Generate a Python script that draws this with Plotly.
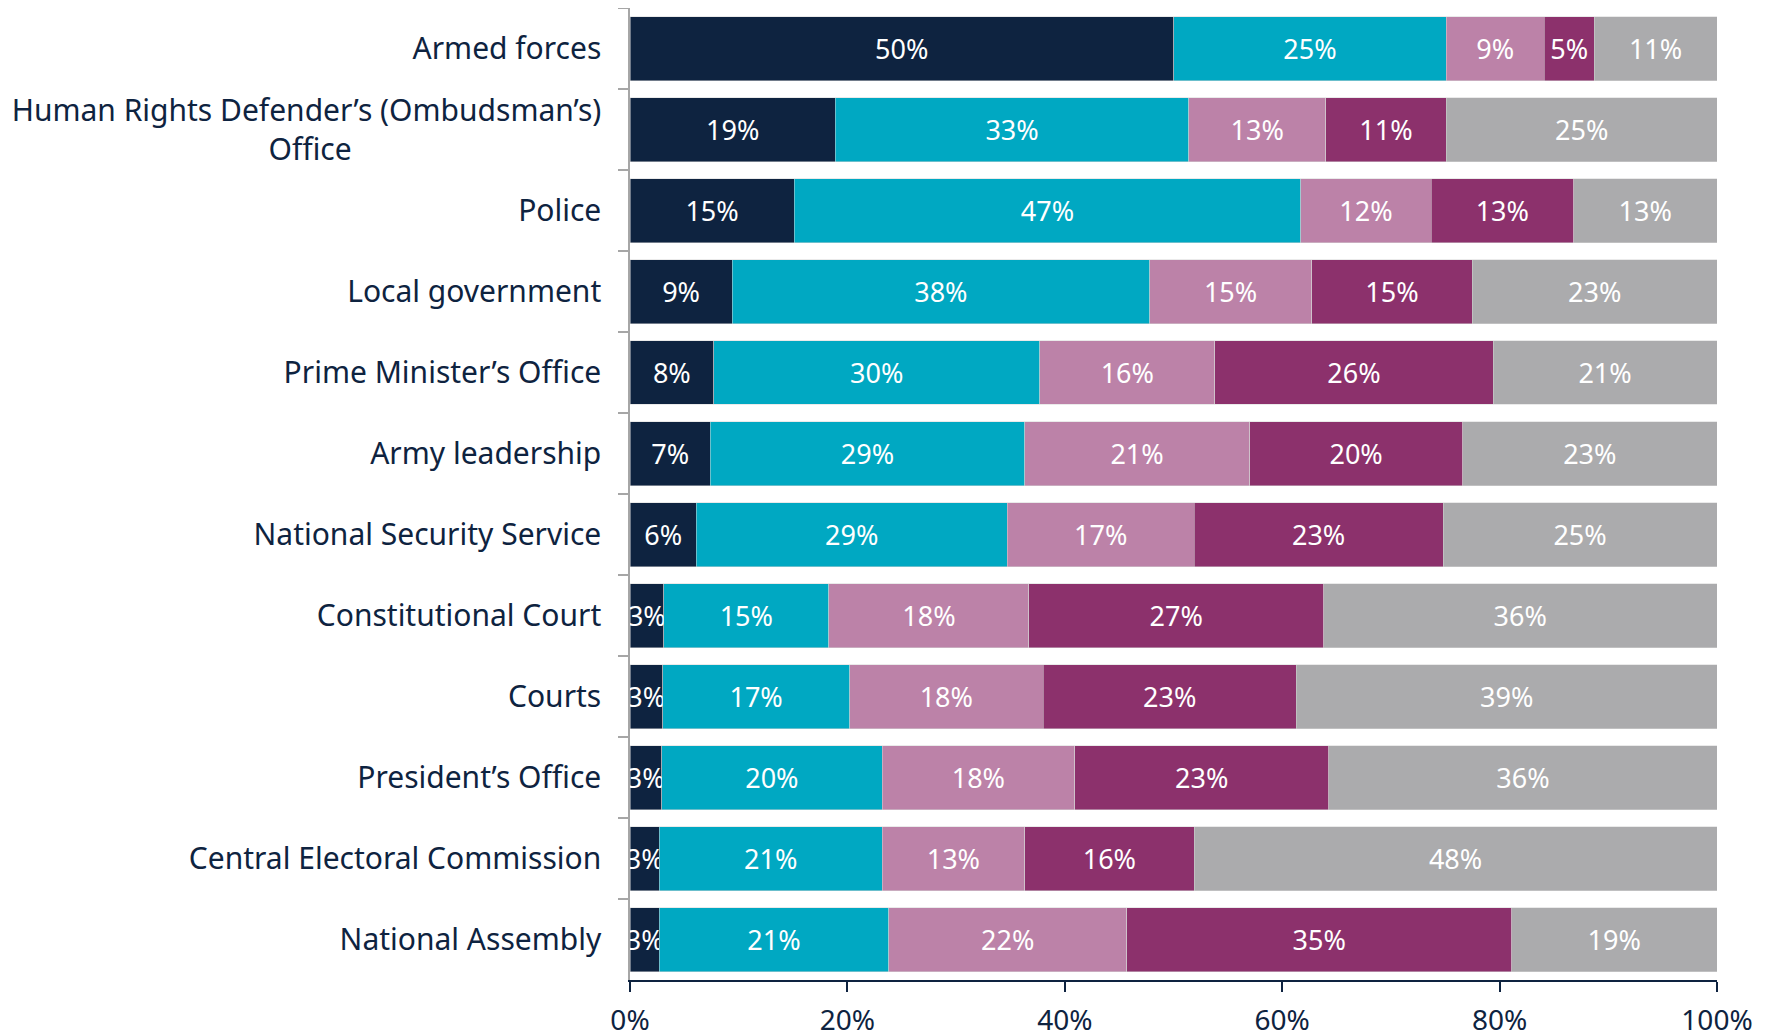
import plotly.graph_objects as go

PAD = "\u00a0" * 32

categories = [
    "Armed forces",
    "Human Rights Defender’s (Ombudsman’s)<br>Office" + PAD,
    "Police",
    "Local government",
    "Prime Minister’s Office",
    "Army leadership",
    "National Security Service",
    "Constitutional Court",
    "Courts",
    "President’s Office",
    "Central Electoral Commission",
    "National Assembly",
]

series_names = ["Series 1", "Series 2", "Series 3", "Series 4", "Series 5"]

s1 = [50.0, 18.9, 15.1, 9.4, 7.7, 7.4, 6.1, 3.1, 3.0, 2.9, 2.7, 2.7]
s2 = [25.1, 32.5, 46.6, 38.4, 30.0, 28.9, 28.6, 15.2, 17.2, 20.3, 20.5, 21.1]
s3 = [9.0, 12.6, 12.0, 14.9, 16.1, 20.7, 17.2, 18.4, 17.8, 17.7, 13.1, 21.9]
s4 = [4.6, 11.1, 13.1, 14.8, 25.6, 19.6, 22.9, 27.1, 23.3, 23.4, 15.6, 35.4]
s5 = [11.3, 24.9, 13.2, 22.5, 20.6, 23.4, 25.2, 36.2, 38.7, 35.7, 48.1, 18.9]

colors = ["#0e2340", "#00a8c2", "#bc82a8", "#8c316c", "#ababad"]

tick_vals = [0, 20, 40, 60, 80, 100]
tick_text = ["0%", "20%", "40%", "60%", "80%", "100%"]

FONT = "Noto Sans, Open Sans, sans-serif"
NAVY = "#0e2340"

fig = go.Figure()
for name, vals, col in zip(series_names, [s1, s2, s3, s4, s5], colors):
    fig.add_trace(go.Bar(
        y=categories,
        x=vals,
        name=name,
        orientation="h",
        marker=dict(color=col, line=dict(color="#d6d6d6", width=0.5)),
        texttemplate="%{x:.0f}%",
        textposition="inside",
        insidetextanchor="middle",
        textangle=0,
        constraintext="none",
        insidetextfont=dict(color="white", size=27, family=FONT),
        cliponaxis=True,
    ))

fig.update_layout(
    barmode="stack",
    bargap=0.21,
    showlegend=False,
    width=1769,
    height=1035,
    margin=dict(l=622, r=60, t=0, b=63),
    plot_bgcolor="white",
    paper_bgcolor="white",
    font=dict(family=FONT, size=27, color=NAVY),
)
fig.update_xaxes(
    range=[0, 100],
    tickvals=tick_vals,
    ticktext=tick_text,
    showgrid=False,
    zeroline=False,
    showline=True,
    linecolor=NAVY,
    linewidth=1.5,
    ticks="outside",
    ticklen=10,
    tickwidth=1.5,
    tickcolor=NAVY,
    ticklabelstandoff=5,
    tickfont=dict(size=28, color=NAVY, family=FONT),
)
fig.update_yaxes(
    autorange="reversed",
    showgrid=False,
    showline=True,
    linecolor="#a6a6a6",
    linewidth=1.5,
    ticks="outside",
    tickson="boundaries",
    ticklen=10,
    tickcolor="#a6a6a6",
    tickwidth=1.5,
    ticklabelstandoff=21,
    tickfont=dict(size=30, color=NAVY, family=FONT),
)

fig.write_html("out.html")
